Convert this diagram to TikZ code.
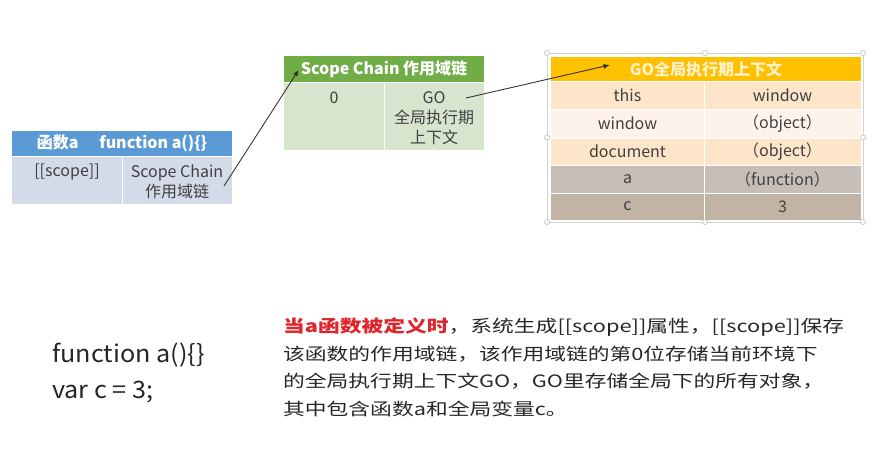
\documentclass[tikz,border=0pt]{standalone}
\usepackage{fontspec}
\setmainfont{Noto Sans CJK SC}
\newfontfamily\parafont[FakeStretch=1.28]{Noto Sans CJK SC}
\newfontfamily\codefont[FakeStretch=1.05]{Noto Sans CJK SC}
\usetikzlibrary{calc,arrows.meta}

\definecolor{hdblue}{HTML}{5B9BD5}
\definecolor{bdblue}{HTML}{D3DAE8}
\definecolor{hdgreen}{HTML}{70AD47}
\definecolor{bdgreen}{HTML}{D7E5CF}
\definecolor{hdgold}{HTML}{FFC000}
\definecolor{goldtxt}{HTML}{FFF2CC}
\definecolor{rowpeach}{HTML}{FCE5C9}
\definecolor{rowpale}{HTML}{FEF3EA}
\definecolor{rowgray}{HTML}{C6BEB7}
\definecolor{rowtan}{HTML}{C2B4A5}
\definecolor{celltxt}{HTML}{404040}
\definecolor{linkgray}{HTML}{2E2E2E}
\definecolor{alertred}{HTML}{E0242B}

\tikzset{
  celltext/.style={font=\fontsize{16}{20}\selectfont, text=celltxt, inner sep=0pt, align=center},
  headtext/.style={font=\bfseries\fontsize{16}{20}\selectfont, text=white, inner sep=0pt},
  sepline/.style={white, line width=0.35mm},
  linkline/.style={linkgray, line width=0.3mm, -{Latex[length=6pt,width=5pt]}},
  handle/.style={gray!55, fill=white, line width=0.2mm}
}

\begin{document}
\begin{tikzpicture}[x=1pt,y=-1pt]
		%%%%% START %%%%%
		\useasboundingbox (0,0) rectangle (884,474);
		
		% function a
		\fill[hdblue] (12,131) rectangle (232,156);
		\fill[bdblue] (12,156) rectangle (232,204);
		\draw[sepline] (12,156) -- (232,156);
		\draw[sepline] (122,156) -- (122,204);
		\node[headtext] (fahead) at (122,143.5) {函数a\hspace{1.3em}function a()\{\}};
		\node[celltext] (fascope) at (67,172) {[[scope]]};
		\node[celltext] (fachain) at (177,182) {Scope Chain\\作用域链};
		
		% scope chain
		\fill[hdgreen] (284,56) rectangle (484,82);
		\fill[bdgreen] (284,82) rectangle (484,150);
		\draw[sepline] (284,82) -- (484,82);
		\draw[sepline] (384,82) -- (384,150);
		\node[headtext] (schead) at (384,69) {Scope Chain 作用域链};
		\node[celltext] (sczero) at (334,98) {0};
		\node[celltext] (scgo) at (434,118) {GO\\全局执行期\\上下文};
		
		% GO
		\draw[gray!35, line width=0.2mm] (547,53) rectangle (863,222);
		\fill[hdgold] (551,57) rectangle (861,81);
		\fill[rowpeach] (551,81) rectangle (861,109);
		\fill[rowpale] (551,109) rectangle (861,138);
		\fill[rowpeach] (551,138) rectangle (861,165);
		\fill[rowgray] (551,165) rectangle (861,193);
		\fill[rowtan] (551,193) rectangle (861,220);
		\draw[sepline] (551,81) -- (861,81);
		\draw[sepline] (551,109) -- (861,109);
		\draw[sepline] (551,138) -- (861,138);
		\draw[sepline] (551,165) -- (861,165);
		\draw[sepline] (551,193) -- (861,193);
		\draw[sepline] (704,81) -- (704,220);
		\node[headtext, text=goldtxt] (gohead) at (706,69) {GO全局执行期上下文};
		\node[celltext] (gothis) at (627.5,95) {this};
		\node[celltext] (gothisv) at (782.5,95) {window};
		\node[celltext] (gowin) at (627.5,123.5) {window};
		\node[celltext] (gowinv) at (782.5,123.5) {（object）};
		\node[celltext] (godoc) at (627.5,151.5) {document};
		\node[celltext] (godocv) at (782.5,151.5) {（object）};
		\node[celltext] (goa) at (627.5,179) {a};
		\node[celltext] (goav) at (782.5,179) {（function）};
		\node[celltext] (goc) at (627.5,206.5) {c};
		\node[celltext] (gocv) at (782.5,206.5) {3};
		
		\draw[handle] (547,53) circle (2.5);
		\draw[handle] (705,53) circle (2.5);
		\draw[handle] (863,53) circle (2.5);
		\draw[handle] (547,137.5) circle (2.5);
		\draw[handle] (863,137.5) circle (2.5);
		\draw[handle] (547,222) circle (2.5);
		\draw[handle] (705,222) circle (2.5);
		\draw[handle] (863,222) circle (2.5);
		
		% links
		\coordinate (linka) at (224,186);
		\coordinate (linkb) at (466,98);
		\draw[linkline] (linka) -- ([xshift=-2pt,yshift=-1pt]schead.west);
		\draw[linkline] (linkb) -- ([xshift=-20pt,yshift=4pt]gohead.west);
		
		% text below
		\node[anchor=west, align=left, inner sep=0pt, text=black!85,
		      font=\codefont\fontsize{24}{36}\selectfont] (code) at (52,373)
		      {function a()\{\}\\var c = 3;};
		\node[anchor=north west, align=left, inner sep=0pt, text=black!85,
		      font=\parafont\fontsize{17}{27.5}\selectfont] (desc) at (283,318)
		      {{\color{alertred}\bfseries 当a函数被定义时}，系统生成[[scope]]属性，[[scope]]保存\\
		       该函数的作用域链，该作用域链的第0位存储当前环境下\\
		       的全局执行期上下文GO，GO里存储全局下的所有对象，\\
		       其中包含函数a和全局变量c。};
		
		%%%%% END %%%%%
	\end{tikzpicture}
\end{document}
